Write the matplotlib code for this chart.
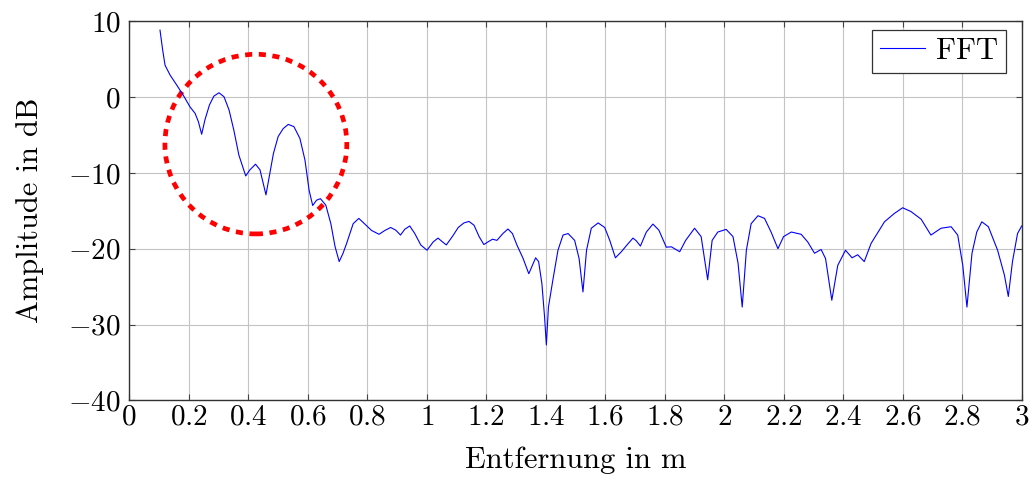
import matplotlib
matplotlib.use("Agg")
import matplotlib.pyplot as plt
from matplotlib.patches import Ellipse
from matplotlib.ticker import FuncFormatter

plt.rcParams["font.family"] = "cmr10"
plt.rcParams["mathtext.fontset"] = "cm"
plt.rcParams["axes.unicode_minus"] = True

# ── data ────────────────────────────────────────────────────────────────────
dist = [0.104, 0.113, 0.121, 0.138, 0.160, 0.182, 0.205, 0.222, 0.233, 0.244,
        0.255, 0.270, 0.285, 0.302, 0.319, 0.336, 0.352, 0.369, 0.392, 0.406,
        0.425, 0.440, 0.451, 0.460, 0.471, 0.485, 0.501, 0.518, 0.535, 0.554,
        0.574, 0.591, 0.605, 0.617, 0.630, 0.643, 0.661, 0.678, 0.692, 0.706,
        0.719, 0.731, 0.753, 0.772, 0.792, 0.815, 0.840, 0.859, 0.879, 0.896,
        0.912, 0.926, 0.943, 0.960, 0.980, 1.001, 1.022, 1.038, 1.053, 1.066,
        1.087, 1.106, 1.125, 1.142, 1.159, 1.176, 1.192, 1.206, 1.221, 1.236,
        1.256, 1.273, 1.288, 1.303, 1.324, 1.343, 1.355, 1.366, 1.376, 1.387,
        1.396, 1.402, 1.409, 1.424, 1.441, 1.458, 1.475, 1.497, 1.512, 1.525,
        1.537, 1.553, 1.576, 1.598, 1.615, 1.634, 1.654, 1.673, 1.693, 1.704,
        1.718, 1.738, 1.760, 1.780, 1.805, 1.822, 1.850, 1.870, 1.900, 1.922,
        1.944, 1.959, 1.978, 2.006, 2.029, 2.046, 2.060, 2.074, 2.090, 2.113,
        2.135, 2.157, 2.180, 2.199, 2.225, 2.258, 2.280, 2.303, 2.325, 2.340,
        2.361, 2.381, 2.407, 2.429, 2.448, 2.470, 2.493, 2.538, 2.571, 2.599,
        2.627, 2.661, 2.694, 2.728, 2.762, 2.784, 2.801, 2.815, 2.832, 2.848,
        2.865, 2.887, 2.918, 2.941, 2.954, 2.968, 2.985, 2.999]
amp = [8.84, 6.2, 4.2, 2.9, 1.6, 0.26, -1.3, -2.15, -3.25, -4.9,
       -3.0, -1.05, 0.13, 0.57, 0.05, -1.7, -4.35, -7.65, -10.4, -9.6,
       -8.85, -9.6, -11.4, -12.9, -10.5, -7.45, -5.2, -4.15, -3.6, -3.9,
       -5.45, -8.3, -12.3, -14.3, -13.6, -13.4, -14.25, -16.7, -19.7, -21.7,
       -20.6, -19.3, -16.7, -16.0, -16.75, -17.6, -18.1, -17.6, -17.2, -17.55,
       -18.2, -17.45, -17.0, -18.0, -19.5, -20.2, -19.1, -18.6, -19.1, -19.5,
       -18.35, -17.2, -16.6, -16.4, -16.9, -18.4, -19.45, -19.1, -18.75, -18.9,
       -18.0, -17.4, -18.0, -19.5, -21.3, -23.3, -22.2, -21.2, -21.7, -24.6,
       -29.0, -32.7, -27.7, -24.1, -20.2, -18.2, -18.0, -18.9, -21.3, -25.7,
       -20.2, -17.3, -16.6, -17.2, -18.9, -21.2, -20.4, -19.5, -18.6, -18.95,
       -19.65, -17.8, -16.75, -17.55, -19.8, -19.75, -20.4, -18.9, -17.3, -18.4,
       -24.1, -18.9, -17.8, -17.45, -18.4, -21.9, -27.7, -20.2, -16.7, -15.65,
       -16.0, -17.8, -20.0, -18.4, -17.8, -18.1, -19.1, -20.6, -20.1, -21.3,
       -26.8, -22.2, -20.2, -21.2, -20.8, -21.7, -19.3, -16.45, -15.35, -14.6,
       -15.1, -16.1, -18.2, -17.3, -17.1, -18.2, -22.2, -27.7, -20.6, -17.8,
       -16.45, -17.1, -20.2, -23.5, -26.3, -21.7, -18.0, -17.0]

xticks = [0, 0.2, 0.4, 0.6, 0.8, 1, 1.2, 1.4, 1.6, 1.8, 2, 2.2, 2.4, 2.6, 2.8, 3]
yticks = [-40, -30, -20, -10, 0, 10]

# highlighted region (centre, width, height in data units)
circ_xy = (0.426, -6.2)
circ_w, circ_h = 0.611, 23.7

# ── plot ────────────────────────────────────────────────────────────────────
fig = plt.figure(figsize=(10.34, 4.82), dpi=100)
ax = fig.add_axes([0.1248, 0.1695, 0.8636, 0.7863])

ax.plot(dist, amp, color="#0000ff", lw=0.8, label="FFT")

ax.add_patch(Ellipse(circ_xy, circ_w, circ_h, fill=False, edgecolor="#ff0000",
                     lw=3.4, linestyle=(0, (1.5, 1.4)), capstyle="butt"))

ax.set_xlim(0, 3)
ax.set_ylim(-40, 10)
ax.set_xticks(xticks)
ax.set_yticks(yticks)
fmt = FuncFormatter(lambda v, p: f"${v:g}$")
ax.xaxis.set_major_formatter(fmt)
ax.yaxis.set_major_formatter(fmt)
ax.tick_params(direction="in", length=4, width=0.8, color="#444444",
               top=True, right=True, labelsize=21)
ax.tick_params(axis="x", pad=3)
ax.tick_params(axis="y", pad=6)
ax.grid(True, color="#c4c4c4", lw=0.8)
ax.set_axisbelow(True)
for s in ax.spines.values():
    s.set_color("#333333")
    s.set_linewidth(1.0)

ax.set_xlabel("Entfernung in m", fontsize=22, labelpad=11)
ax.set_ylabel("Amplitude in dB", fontsize=22, labelpad=17)

leg = ax.legend(loc="upper right", bbox_to_anchor=(0.982, 0.977), fontsize=22,
                fancybox=False, edgecolor="#333333", framealpha=1,
                handlelength=1.5, borderpad=0.25, handletextpad=0.35,
                borderaxespad=0)
leg.get_frame().set_linewidth(0.9)

fig.savefig("out.png", dpi=100)
